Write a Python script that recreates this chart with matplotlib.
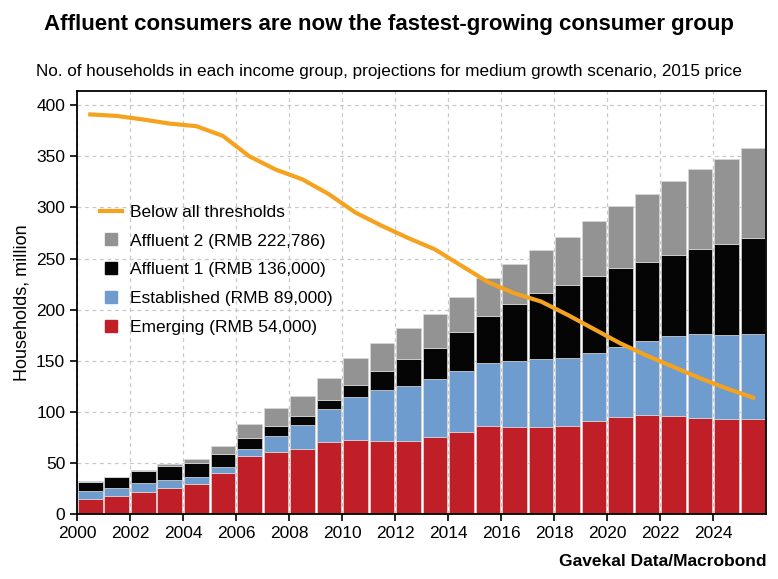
import matplotlib
matplotlib.use("Agg")
from matplotlib import pyplot as plt
from matplotlib.lines import Line2D
import numpy as np

plt.rcParams['font.family'] = ['Liberation Sans', 'DejaVu Sans']

years = list(range(2000, 2026))
emerging = [15, 17.6, 21.8, 25.7, 29.6, 39.8, 56.4, 61, 63.6, 70.1, 73, 71.4, 71.7, 75, 80.5, 86,
            85.4, 85.4, 86, 91, 95.5, 96.8, 96.1, 94.5, 93.2, 92.9]
established = [22.5, 25.1, 30, 33, 36.5, 46.3, 63.6, 76.6, 87, 102.4, 114.7, 121.3, 125.8, 132, 139.9, 148,
               149.6, 151.3, 152.9, 158, 163.6, 169.2, 174, 176.3, 175.7, 176.3]
affluent1 = [31.6, 35.9, 42.4, 47, 50.5, 59, 74.3, 86.7, 96.1, 111.5, 126.8, 139.9, 151.6, 163, 177.7, 194,
             206, 216.4, 224, 233, 240.6, 247.1, 253.6, 259.2, 264.7, 270.2]
affluent2 = [32, 36.2, 42.8, 48.6, 54, 66.5, 88, 103.4, 115.7, 133.3, 152.3, 167.9, 182.2, 195.6, 212.5, 231.1,
             244.5, 258.2, 271.2, 286.6, 301.2, 313.6, 326.3, 337.7, 347.8, 358.2]
below_all = [391, 389.5, 386, 382, 379.5, 370, 350, 337, 327.5, 313, 295, 282, 270, 259, 243, 227,
             216, 208, 195, 181, 167, 155, 144, 133, 123, 114]

# values above are cumulative tops -> convert to segment heights
x = np.array(years) + 0.5
e = np.array(emerging)
s = np.array(established) - e
a1 = np.array(affluent1) - np.array(established)
a2 = np.array(affluent2) - np.array(affluent1)

c_em, c_est, c_a1, c_a2, c_line = '#c11f28', '#6f9ccf', '#050505', '#939393', '#f5a21e'
labels = ['Below all thresholds', 'Affluent 2 (RMB 222,786)', 'Affluent 1 (RMB 136,000)',
          'Established (RMB 89,000)', 'Emerging (RMB 54,000)']

fig = plt.figure(figsize=(7.78, 5.79), dpi=100)
ax = fig.add_axes([0.099, 0.112, 0.886, 0.731])

w = 0.93
ec = dict(edgecolor='#d8d8d8', linewidth=0.5)
ax.bar(x, e, w, color=c_em, zorder=2, **ec)
ax.bar(x, s, w, bottom=e, color=c_est, zorder=2, **ec)
ax.bar(x, a1, w, bottom=e + s, color=c_a1, zorder=2, **ec)
ax.bar(x, a2, w, bottom=e + s + a1, color=c_a2, zorder=2, **ec)
ax.plot(x, below_all, color=c_line, lw=3, zorder=3)

ax.set_xlim(2000, 2026)
ax.set_ylim(0, 414)
ax.set_xticks(range(2000, 2026, 2))
ax.set_yticks(range(0, 401, 50))
ax.tick_params(labelsize=12.5, length=5, width=1.2, direction='out')
ax.grid(True, color='#c8c8c8', linestyle=(0, (3, 3)), linewidth=0.9, zorder=0)
ax.set_axisbelow(True)
for sp in ax.spines.values():
    sp.set_linewidth(1.3)
ax.set_ylabel('Households, million', fontsize=13)

# legend: line + small square markers like the original
handles = [Line2D([], [], color=c_line, lw=3)]
for c in [c_a2, c_a1, c_est, c_em]:
    handles.append(Line2D([], [], color=c, marker='s', markersize=8, linestyle='none'))
ax.legend(handles, labels, loc='upper left', bbox_to_anchor=(0.01, 0.768), frameon=False,
          fontsize=12.5, handlelength=1.3, labelspacing=0.78, handletextpad=0.45)

fig.text(0.5, 0.958, 'Affluent consumers are now the fastest-growing consumer group',
         ha='center', va='center', fontsize=16, fontweight='bold')
fig.text(0.5, 0.877, 'No. of households in each income group, projections for medium growth scenario, 2015 price',
         ha='center', va='center', fontsize=12.3)
fig.text(0.985, 0.018, 'Gavekal Data/Macrobond', ha='right', va='bottom', fontsize=12.5, fontweight='bold')

fig.savefig('out.png', dpi=100)
